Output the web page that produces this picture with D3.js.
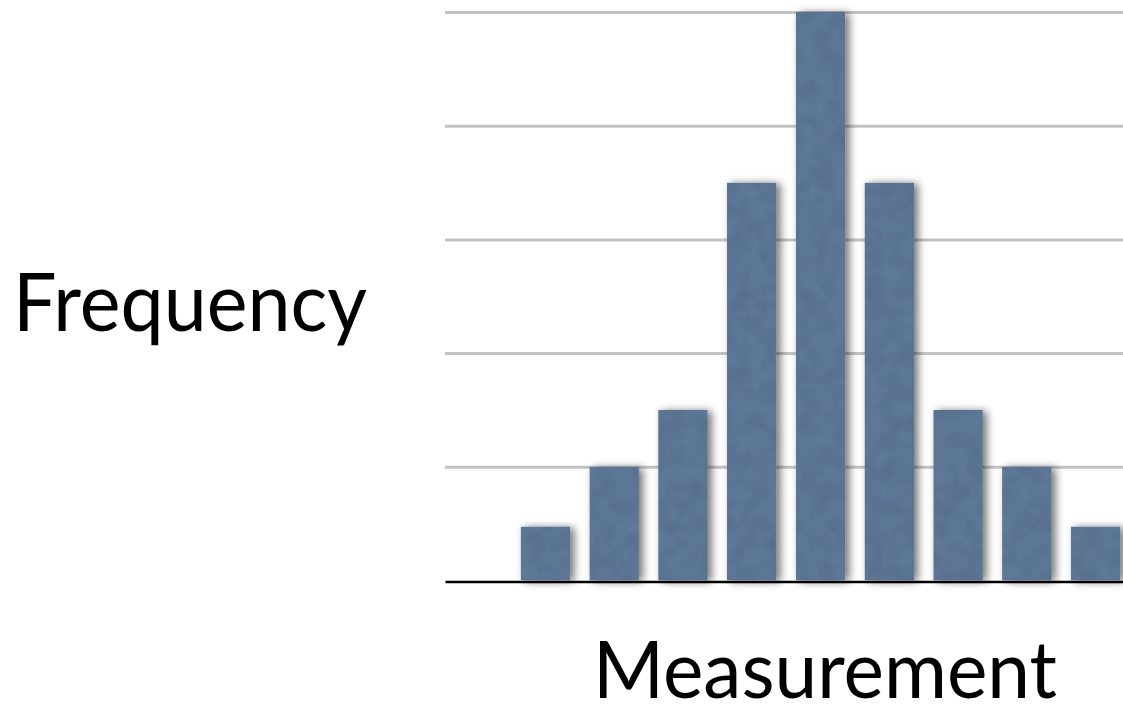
<!DOCTYPE html>
<html>
<head>
<meta charset="utf-8">
<script src="https://cdn.jsdelivr.net/npm/d3@7"></script>
<style>
  html, body { margin: 0; padding: 0; background: #fff; }
  svg { display: block; }
</style>
</head>
<body>
<svg id="chart" width="1123" height="707"></svg>
<script>
// Histogram of measurement counts (symmetric, peaked in the middle bin)
const bins = ["1", "2", "3", "4", "5", "6", "7", "8", "9"];
const counts = [0.95, 2, 3, 7, 10, 7, 3, 2, 0.95];
const gridTicks = [2, 4, 6, 8, 10];
const xTitle = "Measurement";
const yTitle = "Frequency";

const svg = d3.select("#chart");
const plot = { left: 445, right: 1123, top: 12, bottom: 580.5 };

const defs = svg.append("defs");

// soft drop shadow plus a faint mottled texture on the bars
const f = defs.append("filter").attr("id", "barFx")
  .attr("x", "-30%").attr("y", "-10%").attr("width", "160%").attr("height", "130%");
f.append("feTurbulence").attr("type", "fractalNoise").attr("baseFrequency", "0.06")
  .attr("numOctaves", 3).attr("seed", 7).attr("result", "noise");
f.append("feColorMatrix").attr("in", "noise").attr("type", "matrix")
  .attr("values", "0 0 0 0 0  0 0 0 0 0  0 0 0 0 0  0 0 0 0.24 -0.05").attr("result", "dark");
f.append("feComposite").attr("in", "dark").attr("in2", "SourceGraphic").attr("operator", "in").attr("result", "darkIn");
f.append("feMerge").call(m => {
  m.append("feMergeNode").attr("in", "SourceGraphic");
  m.append("feMergeNode").attr("in", "darkIn");
});
f.append("feComposite").attr("in2", "SourceGraphic").attr("operator", "in").attr("result", "textured");
f.append("feGaussianBlur").attr("in", "SourceAlpha").attr("stdDeviation", 4).attr("result", "blur");
f.append("feOffset").attr("in", "blur").attr("dx", 4).attr("dy", 1).attr("result", "off");
f.append("feComponentTransfer").attr("in", "off").attr("result", "shadow")
  .append("feFuncA").attr("type", "linear").attr("slope", 0.55);
f.append("feMerge").call(m => {
  m.append("feMergeNode").attr("in", "shadow");
  m.append("feMergeNode").attr("in", "textured");
});

const x = d3.scaleBand().domain(bins).range([511, 1130]).paddingInner(0.28).paddingOuter(0.14);
const y = d3.scaleLinear().domain([0, 10]).range([plot.bottom, plot.top]);

// horizontal gridlines
const grid = svg.append("g")
  .attr("transform", `translate(${plot.left},0)`)
  .call(d3.axisLeft(y).tickValues(gridTicks).tickSize(-(plot.right - plot.left)).tickFormat(""));
grid.select(".domain").remove();
grid.selectAll(".tick line").attr("stroke", "#c3c3c3").attr("stroke-width", 3);

// bars
svg.append("g").selectAll("rect").data(counts).join("rect")
  .attr("x", (d, i) => x(bins[i]))
  .attr("y", d => y(d))
  .attr("width", x.bandwidth())
  .attr("height", d => y(0) - y(d))
  .attr("fill", "#5f7999")
  .attr("filter", "url(#barFx)");

// baseline
const base = svg.append("g")
  .attr("transform", `translate(0,${y(0) + 1})`)
  .call(d3.axisBottom(d3.scaleLinear().range([plot.left, plot.right])).ticks(0).tickSize(0).tickFormat(""));
base.select(".domain").attr("stroke", "#000").attr("stroke-width", 2.5);

// axis titles
const font = "'Gill Sans', Lato, 'Open Sans', sans-serif";
svg.append("text").text(yTitle)
  .attr("x", 13).attr("y", 331)
  .attr("font-family", font).attr("font-size", 82).attr("fill", "#000")
  .attr("textLength", 354).attr("lengthAdjust", "spacingAndGlyphs");
svg.append("text").text(xTitle)
  .attr("x", 593).attr("y", 698)
  .attr("font-family", font).attr("font-size", 80).attr("fill", "#000")
  .attr("textLength", 464).attr("lengthAdjust", "spacingAndGlyphs");
</script>
</body>
</html>
